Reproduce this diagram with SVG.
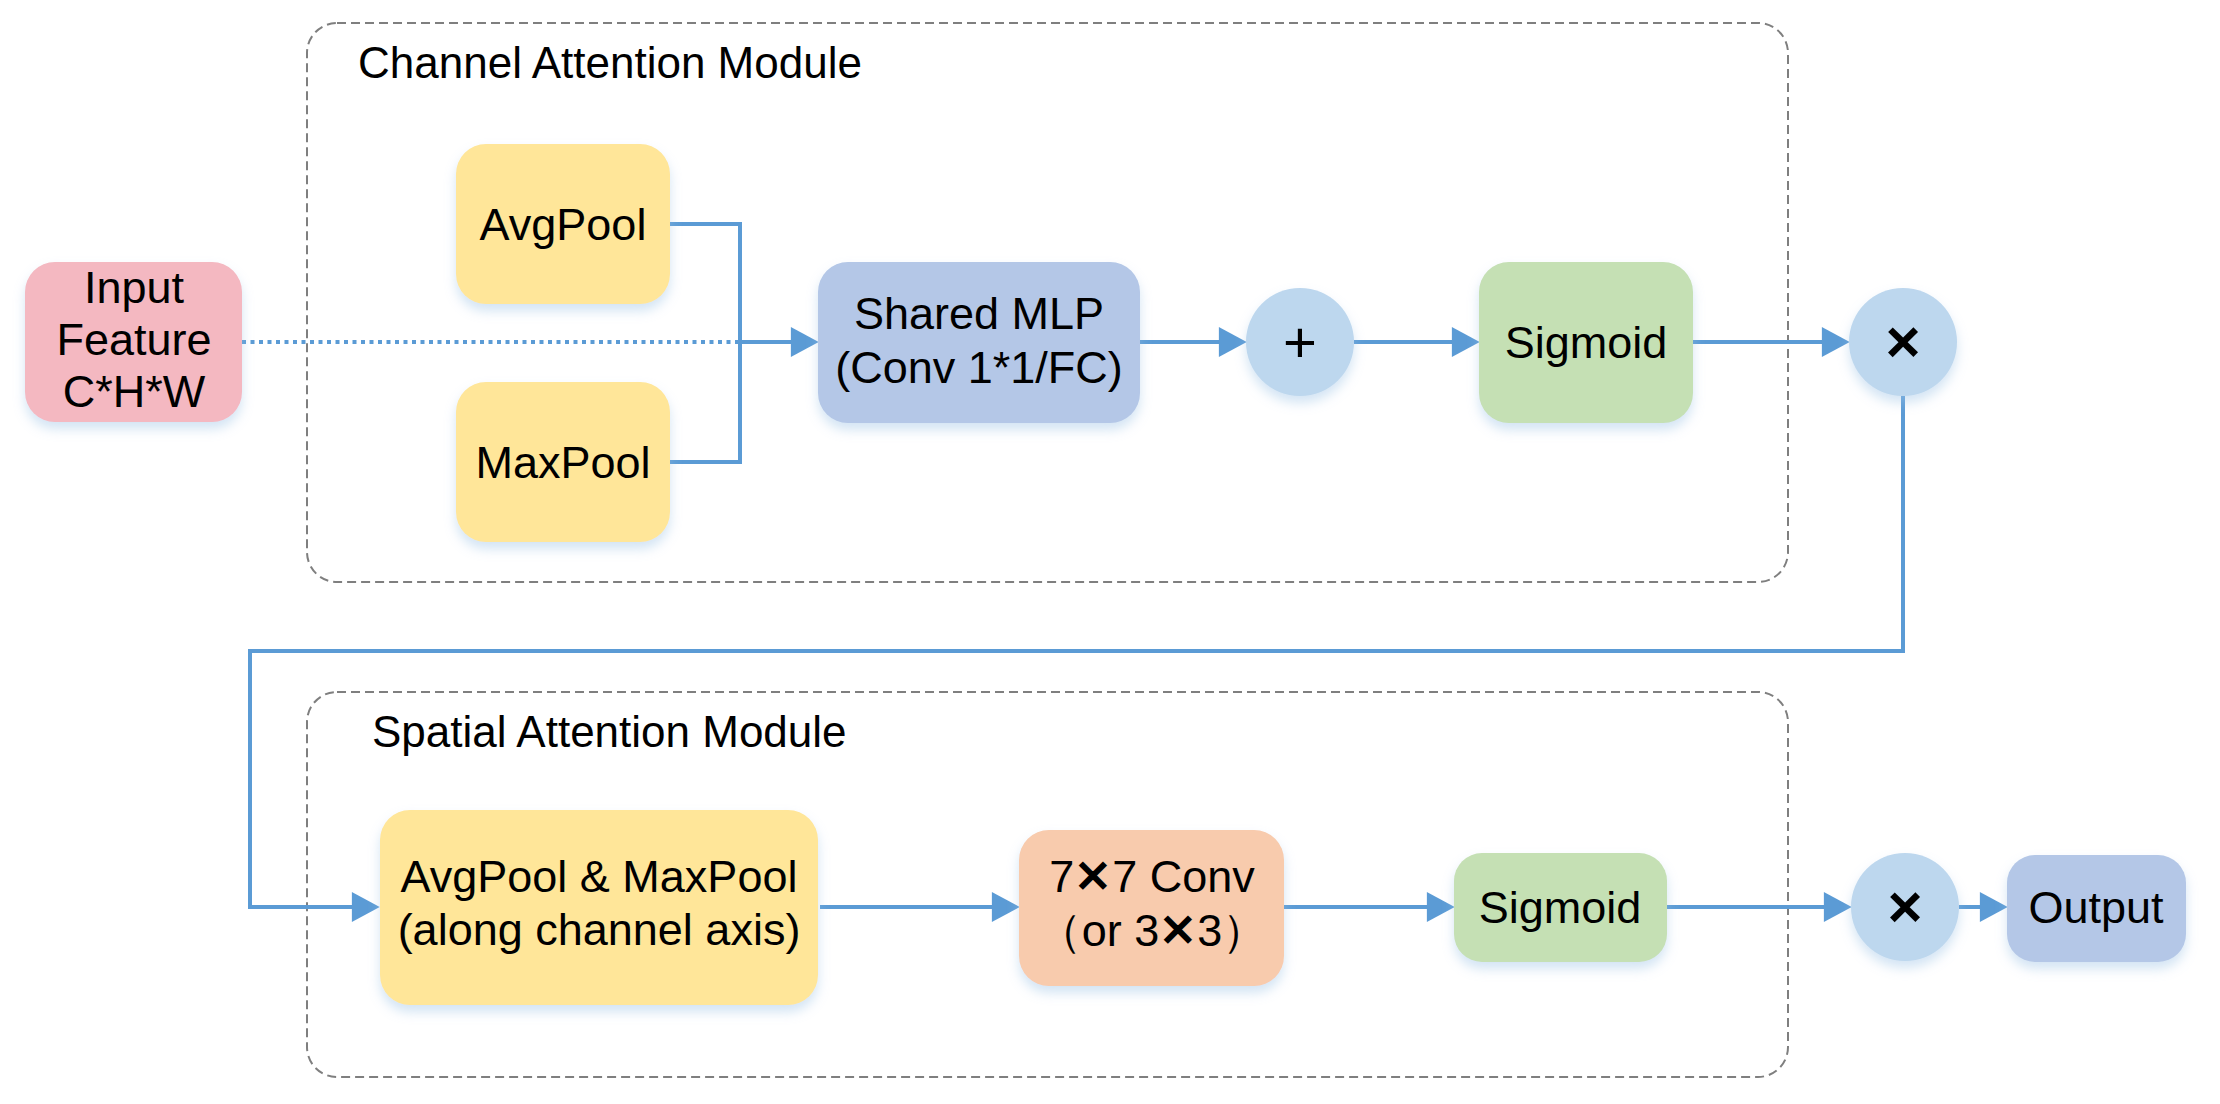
<svg xmlns="http://www.w3.org/2000/svg" width="2220" height="1104" viewBox="0 0 2220 1104">
<defs>
<style>
.t{font-family:"Liberation Sans",Arial,sans-serif;font-size:45px;fill:#000;text-anchor:middle}
.title{font-family:"Liberation Sans",Arial,sans-serif;font-size:44px;fill:#000}
.grp{fill:none;stroke:#7f7f7f;stroke-width:2;stroke-dasharray:9 5}
.ln{fill:none;stroke:#5b9bd5;stroke-width:4}
.arr{marker-end:url(#ah)}
.dot{fill:none;stroke:#5b9bd5;stroke-width:4;stroke-dasharray:4 4.5}
.sym{font-family:"Liberation Sans",Arial,sans-serif;fill:#000;text-anchor:middle}
</style>
<filter id="sh" x="-20%" y="-20%" width="140%" height="150%">
<feDropShadow dx="0" dy="7" stdDeviation="6" flood-color="#9dc3e6" flood-opacity="0.45"/>
</filter>
<marker id="ah" markerUnits="userSpaceOnUse" markerWidth="30" markerHeight="30" viewBox="0 0 26 28" refX="16" refY="14" orient="auto">
<path d="M0 0 L26 14 L0 28 Z" fill="#5b9bd5"/>
</marker>
</defs>
<rect width="2220" height="1104" fill="#fff"/>

<g id="channel-module">
<rect class="grp" x="307" y="23" width="1481" height="559" rx="30"/>
<text class="title" x="358" y="78">Channel Attention Module</text>
</g>
<g id="spatial-module">
<rect class="grp" x="307" y="692" width="1481" height="385" rx="30"/>
<text class="title" x="372" y="747">Spatial Attention Module</text>
</g>

<g id="connectors">
<path class="dot" d="M242 342 H740"/>
<path class="ln" d="M670 224 H740 V462 H670"/>
<path class="ln arr" d="M740 342 H808"/>
<path class="ln arr" d="M1140 342 H1236"/>
<path class="ln arr" d="M1354 342 H1469"/>
<path class="ln arr" d="M1693 342 H1839"/>
<path class="ln arr" d="M1903 396 V651 H250 V907 H369"/>
<path class="ln arr" d="M820 907 H1009"/>
<path class="ln arr" d="M1284 907 H1444"/>
<path class="ln arr" d="M1667 907 H1841"/>
<path class="ln arr" d="M1959 907 H1997"/>
</g>

<g id="input">
<rect x="25" y="262" width="217" height="160" rx="30" fill="#f4b8c1" filter="url(#sh)"/>
<text class="t" x="134" y="303" font-size="43">Input</text>
<text class="t" x="134" y="355" font-size="43">Feature</text>
<text class="t" x="134" y="407" font-size="43">C*H*W</text>
</g>
<g id="avgpool">
<rect x="456" y="144" width="214" height="160" rx="30" fill="#ffe699" filter="url(#sh)"/>
<text class="t" x="563" y="240">AvgPool</text>
</g>
<g id="maxpool">
<rect x="456" y="382" width="214" height="160" rx="30" fill="#ffe699" filter="url(#sh)"/>
<text class="t" x="563" y="478">MaxPool</text>
</g>
<g id="shared-mlp">
<rect x="818" y="262" width="322" height="161" rx="30" fill="#b4c7e7" filter="url(#sh)"/>
<text class="t" x="979" y="329">Shared MLP</text>
<text class="t" x="979" y="383">(Conv 1*1/FC)</text>
</g>
<g id="plus">
<circle cx="1300" cy="342" r="54" fill="#bdd7ee" filter="url(#sh)"/>
<text class="sym" x="1300" y="362" font-size="58">+</text>
</g>
<g id="sigmoid1">
<rect x="1479" y="262" width="214" height="161" rx="30" fill="#c5e0b4" filter="url(#sh)"/>
<text class="t" x="1586" y="358">Sigmoid</text>
</g>
<g id="mul1">
<circle cx="1903" cy="342" r="54" fill="#bdd7ee" filter="url(#sh)"/>
<text class="sym" x="1903" y="362" font-size="60" font-weight="bold">×</text>
</g>

<g id="avgmax">
<rect x="380" y="810" width="438" height="195" rx="30" fill="#ffe699" filter="url(#sh)"/>
<text class="t" x="599" y="892">AvgPool &amp; MaxPool</text>
<text class="t" x="599" y="945">(along channel axis)</text>
</g>
<g id="conv">
<rect x="1019" y="830" width="265" height="156" rx="30" fill="#f8cbad" filter="url(#sh)"/>
<text class="t" x="1152" y="892">7<tspan font-weight="bold">✕</tspan>7 Conv</text>
<text class="t" x="1152" y="946">（or 3<tspan font-weight="bold">✕</tspan>3）</text>
</g>
<g id="sigmoid2">
<rect x="1454" y="853" width="213" height="109" rx="28" fill="#c5e0b4" filter="url(#sh)"/>
<text class="t" x="1560" y="923">Sigmoid</text>
</g>
<g id="mul2">
<circle cx="1905" cy="907" r="54" fill="#bdd7ee" filter="url(#sh)"/>
<text class="sym" x="1905" y="927" font-size="60" font-weight="bold">×</text>
</g>
<g id="output">
<rect x="2007" y="855" width="179" height="107" rx="28" fill="#b4c7e7" filter="url(#sh)"/>
<text class="t" x="2096" y="923">Output</text>
</g>
</svg>
